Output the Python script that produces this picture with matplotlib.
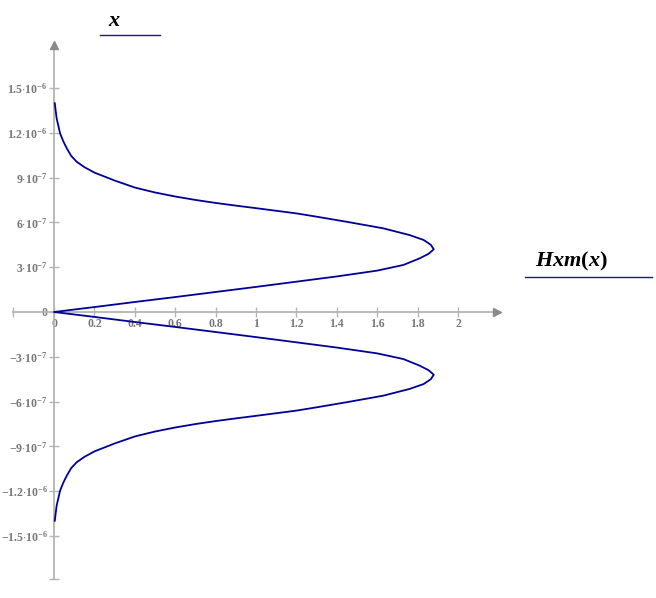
import matplotlib
matplotlib.use("Agg")
import matplotlib.pyplot as plt
import matplotlib.lines as mlines
import numpy as np

# upper half of the curve (x in units of 1e-7)
x_upper = [0.0, 0.33, 0.67, 1.0, 1.34, 1.68, 2.03, 2.38, 2.77, 3.15, 3.59, 3.9, 4.2,
           4.5, 4.82, 5.15, 5.6, 6.0, 6.38, 6.6, 6.95, 7.12, 7.3, 7.5, 7.73, 8.0,
           8.33, 8.8, 9.33, 9.7, 10.06, 10.45, 10.96, 11.45, 11.96, 12.96, 13.5, 13.97]
hxm_upper = [0.0, 0.2, 0.4, 0.6, 0.8, 1.0, 1.2, 1.4, 1.6, 1.73, 1.81, 1.855, 1.88,
             1.865, 1.83, 1.76, 1.63, 1.465, 1.30, 1.2, 1.0, 0.9, 0.8, 0.7, 0.6, 0.5,
             0.4, 0.3, 0.2, 0.15, 0.112, 0.085, 0.063, 0.045, 0.03, 0.013, 0.008, 0.004]

x_ticks = [0, 0.2, 0.4, 0.6, 0.8, 1, 1.2, 1.4, 1.6, 1.8, 2]
x_tick_labels = ["0", "0.2", "0.4", "0.6", "0.8", "1", "1.2", "1.4", "1.6", "1.8", "2"]
y_ticks = [-1.5e-6, -1.2e-6, -9e-7, -6e-7, -3e-7, 0, 3e-7, 6e-7, 9e-7, 1.2e-6, 1.5e-6]
y_tick_labels = [r"$-1.5{\cdot}10^{-6}$", r"$-1.2{\cdot}10^{-6}$", r"$-9{\cdot}10^{-7}$",
                 r"$-6{\cdot}10^{-7}$", r"$-3{\cdot}10^{-7}$", "0",
                 r"$3{\cdot}10^{-7}$", r"$6{\cdot}10^{-7}$", r"$9{\cdot}10^{-7}$",
                 r"$1.2{\cdot}10^{-6}$", r"$1.5{\cdot}10^{-6}$"]

# full curve: lower half mirrors the upper half
xu = np.array(x_upper) * 1e-7
hu = np.array(hxm_upper)
x_vals = np.concatenate([-xu[::-1], xu[1:]])
hxm_vals = np.concatenate([hu[::-1], hu[1:]])

axis_color = "#b4b4b4"
label_color = "#777777"
curve_color = "#000096"

plt.rcParams["mathtext.fontset"] = "custom"
plt.rcParams["mathtext.rm"] = "Liberation Serif:bold"
plt.rcParams["mathtext.bf"] = "Liberation Serif:bold"
plt.rcParams["mathtext.it"] = "Liberation Serif:italic:bold"
plt.rcParams["mathtext.default"] = "rm"

tick_font = dict(family=["Liberation Serif", "DejaVu Serif"], weight="bold", size=8.5)

fig = plt.figure(figsize=(6.56, 5.98), dpi=100)
ax = fig.add_axes([13 / 656, 1 - 579 / 598, (497 - 13) / 656, (579 - 45) / 598])
ax.set_xlim(-0.203, 2.193)
ax.set_ylim(-1.787e-6, 1.787e-6)

ax.plot(hxm_vals, x_vals, color=curve_color, linewidth=1.3, zorder=3)

for s in ["top", "right"]:
    ax.spines[s].set_visible(False)
ax.spines["left"].set_position(("data", 0))
ax.spines["bottom"].set_position(("data", 0))
for s in ["left", "bottom"]:
    ax.spines[s].set_color(axis_color)
    ax.spines[s].set_linewidth(1.3)

ax.set_xticks(x_ticks)
ax.set_xticklabels(x_tick_labels, **tick_font)
ax.set_yticks(y_ticks)
ax.set_yticklabels(y_tick_labels, **tick_font)
ax.tick_params(axis="both", direction="inout", length=7, width=1.0, color=axis_color,
               labelcolor=label_color, pad=1)

# arrow heads and end marks
ax.plot(0, 1, marker="^", markersize=6, color="#8a8a8a", transform=ax.get_xaxis_transform(),
        clip_on=False, zorder=4)
ax.plot(1, 0, marker=">", markersize=6, color="#8a8a8a", transform=ax.get_yaxis_transform(),
        clip_on=False, zorder=4)
ax.plot(0, 0, marker="_", markersize=7, color=axis_color, transform=ax.get_xaxis_transform(),
        clip_on=False)
ax.plot(0, 0, marker="|", markersize=7, color=axis_color, transform=ax.get_yaxis_transform(),
        clip_on=False)

# axis names with underline, Mathcad style
fig.text(114 / 656, 1 - 20 / 598, r"$\mathit{x}$", fontsize=16, ha="center", va="center")
fig.add_artist(mlines.Line2D([100 / 656, 160 / 656], [1 - 35 / 598, 1 - 35 / 598],
                             color="#1a1a80", linewidth=1))
fig.text(571 / 656, 1 - 261 / 598, r"$\mathit{Hxm}(\mathit{x})$", fontsize=16,
         ha="center", va="center")
fig.add_artist(mlines.Line2D([525 / 656, 652 / 656], [1 - 277 / 598, 1 - 277 / 598],
                             color="#1a1a80", linewidth=1))

fig.savefig("out.png", dpi=100)
